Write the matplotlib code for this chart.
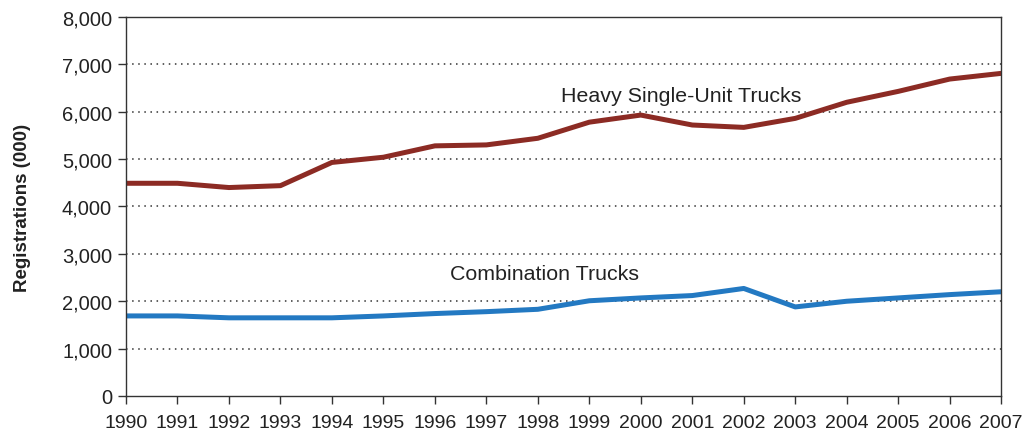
import numpy as np
import matplotlib
matplotlib.use("Agg")
import matplotlib.pyplot as plt
from matplotlib.ticker import FuncFormatter

plt.rcParams['font.family'] = ['Liberation Sans', 'DejaVu Sans']

# Data (thousands of registrations)
years = list(range(1990, 2008))
heavy_single_unit = [4490, 4490, 4400, 4440, 4930, 5040, 5280, 5300, 5440,
                     5780, 5930, 5720, 5670, 5860, 6200, 6430, 6690, 6810]
combination = [1690, 1690, 1650, 1650, 1650, 1690, 1740, 1780, 1830,
               2010, 2070, 2120, 2270, 1880, 2000, 2070, 2140, 2200]

fig = plt.figure(figsize=(10.26, 4.39), dpi=100)
ax = fig.add_axes([0.1228, 0.0957, 0.853, 0.8633])

ax.plot(years, heavy_single_unit, color="#8c2b24", lw=3.6, solid_capstyle="butt")
ax.plot(years, combination, color="#2379c2", lw=3.6, solid_capstyle="butt")

ax.set_xlim(1990, 2007)
ax.set_ylim(0, 8000)
ax.set_xticks(years)
ax.set_yticks(range(0, 8001, 1000))
ax.yaxis.set_major_formatter(FuncFormatter(lambda v, p: f"{int(v):,}"))

# dotted gridlines (skip 0 and 8000 which coincide with spines)
for v in range(1000, 8000, 1000):
    ax.axhline(v, color="#333333", lw=1.1, ls=(0, (1, 3)), zorder=0)

for s in ax.spines.values():
    s.set_color("#333333")
    s.set_linewidth(1.0)

ax.tick_params(axis="both", direction="out", length=6, width=1, color="#333333",
               labelcolor="#222222")
ax.tick_params(axis="x", pad=7, labelsize=14)
ax.tick_params(axis="y", pad=4, labelsize=14.5)

ax.set_ylabel("Registrations (000)", fontsize=13.5, fontweight="bold",
              color="#222222", labelpad=22)

ax.text(1998.45, 6345, "Heavy Single-Unit Trucks", fontsize=15.4,
        color="#222222", va="center", ha="left")
ax.text(1996.3, 2595, "Combination Trucks", fontsize=15.4,
        color="#222222", va="center", ha="left")

fig.savefig("out.png", dpi=100)
